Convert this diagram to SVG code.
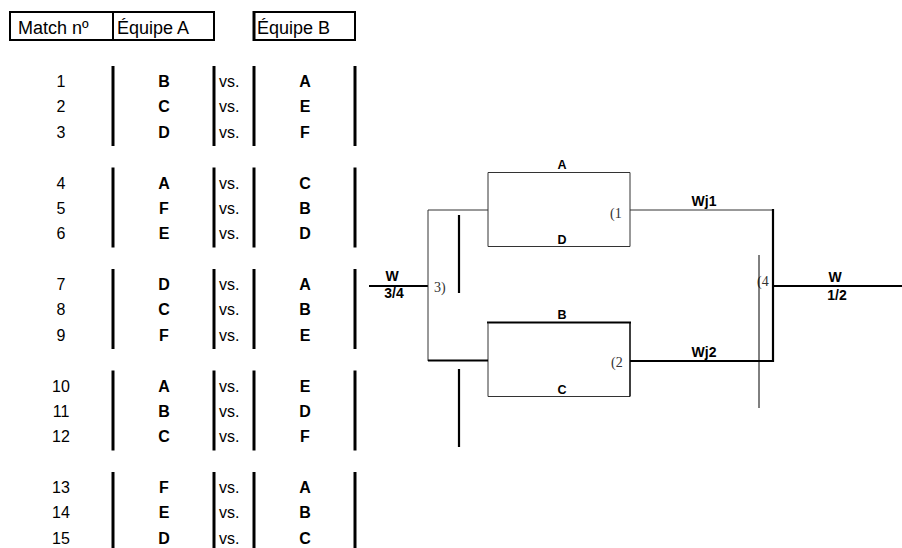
<svg xmlns="http://www.w3.org/2000/svg" width="902" height="548" viewBox="0 0 902 548">
<style>
text{font-family:"Liberation Sans",Arial,sans-serif;fill:#000}
.hd{font-size:18px}
.n{font-size:16px;text-anchor:middle}
.t{font-size:16px;font-weight:bold;text-anchor:middle}
.vs{font-size:16px}
.bl{font-size:12.5px;font-weight:bold;text-anchor:middle}
.wl{font-size:14px;font-weight:bold;text-anchor:middle}
.sr{font-family:"Liberation Serif","Times New Roman",serif;font-size:14px;fill:#333}
.bar{stroke:#000;stroke-width:3;fill:none}
.hbox{stroke:#000;stroke-width:2;fill:none}
.thin{stroke:#333;stroke-width:1;fill:none}
.thick{stroke:#000;stroke-width:2.2;fill:none}
.mid{stroke:#000;stroke-width:1.5;fill:none}
</style>
<rect width="902" height="548" fill="#fff"/>
<g id="header">
<rect class="hbox" x="10" y="12" width="204" height="28"/>
<line class="hbox" x1="113" y1="12" x2="113" y2="40"/>
<rect class="hbox" x="254" y="12" width="101" height="28"/>
<line class="bar" x1="254" y1="11" x2="254" y2="41"/>
<text class="hd" x="18" y="34">Match nº</text>
<text class="hd" x="117" y="34">Équipe A</text>
<text class="hd" x="257" y="34">Équipe B</text>
</g>
<g id="table-lines">
<g id="bars-g1"><line class="bar" x1="113" y1="66" x2="113" y2="146"/><line class="bar" x1="214" y1="66" x2="214" y2="146"/><line class="bar" x1="254" y1="66" x2="254" y2="146"/><line class="bar" x1="355" y1="66" x2="355" y2="146"/></g>
<g id="bars-g2"><line class="bar" x1="113" y1="167.5" x2="113" y2="247.5"/><line class="bar" x1="214" y1="167.5" x2="214" y2="247.5"/><line class="bar" x1="254" y1="167.5" x2="254" y2="247.5"/><line class="bar" x1="355" y1="167.5" x2="355" y2="247.5"/></g>
<g id="bars-g3"><line class="bar" x1="113" y1="269" x2="113" y2="349"/><line class="bar" x1="214" y1="269" x2="214" y2="349"/><line class="bar" x1="254" y1="269" x2="254" y2="349"/><line class="bar" x1="355" y1="269" x2="355" y2="349"/></g>
<g id="bars-g4"><line class="bar" x1="113" y1="370.5" x2="113" y2="450.5"/><line class="bar" x1="214" y1="370.5" x2="214" y2="450.5"/><line class="bar" x1="254" y1="370.5" x2="254" y2="450.5"/><line class="bar" x1="355" y1="370.5" x2="355" y2="450.5"/></g>
<g id="bars-g5"><line class="bar" x1="113" y1="472" x2="113" y2="548"/><line class="bar" x1="214" y1="472" x2="214" y2="548"/><line class="bar" x1="254" y1="472" x2="254" y2="548"/><line class="bar" x1="355" y1="472" x2="355" y2="548"/></g>
</g>
<g id="match1"><text class="n" x="61" y="87">1</text><text class="t" x="164" y="87">B</text><text class="vs" x="219" y="87">vs.</text><text class="t" x="305" y="87">A</text></g>
<g id="match2"><text class="n" x="61" y="112.4">2</text><text class="t" x="164" y="112.4">C</text><text class="vs" x="219" y="112.4">vs.</text><text class="t" x="305" y="112.4">E</text></g>
<g id="match3"><text class="n" x="61" y="137.8">3</text><text class="t" x="164" y="137.8">D</text><text class="vs" x="219" y="137.8">vs.</text><text class="t" x="305" y="137.8">F</text></g>
<g id="match4"><text class="n" x="61" y="188.5">4</text><text class="t" x="164" y="188.5">A</text><text class="vs" x="219" y="188.5">vs.</text><text class="t" x="305" y="188.5">C</text></g>
<g id="match5"><text class="n" x="61" y="213.9">5</text><text class="t" x="164" y="213.9">F</text><text class="vs" x="219" y="213.9">vs.</text><text class="t" x="305" y="213.9">B</text></g>
<g id="match6"><text class="n" x="61" y="239.3">6</text><text class="t" x="164" y="239.3">E</text><text class="vs" x="219" y="239.3">vs.</text><text class="t" x="305" y="239.3">D</text></g>
<g id="match7"><text class="n" x="61" y="290">7</text><text class="t" x="164" y="290">D</text><text class="vs" x="219" y="290">vs.</text><text class="t" x="305" y="290">A</text></g>
<g id="match8"><text class="n" x="61" y="315.4">8</text><text class="t" x="164" y="315.4">C</text><text class="vs" x="219" y="315.4">vs.</text><text class="t" x="305" y="315.4">B</text></g>
<g id="match9"><text class="n" x="61" y="340.8">9</text><text class="t" x="164" y="340.8">F</text><text class="vs" x="219" y="340.8">vs.</text><text class="t" x="305" y="340.8">E</text></g>
<g id="match10"><text class="n" x="61" y="391.5">10</text><text class="t" x="164" y="391.5">A</text><text class="vs" x="219" y="391.5">vs.</text><text class="t" x="305" y="391.5">E</text></g>
<g id="match11"><text class="n" x="61" y="416.9">11</text><text class="t" x="164" y="416.9">B</text><text class="vs" x="219" y="416.9">vs.</text><text class="t" x="305" y="416.9">D</text></g>
<g id="match12"><text class="n" x="61" y="442.3">12</text><text class="t" x="164" y="442.3">C</text><text class="vs" x="219" y="442.3">vs.</text><text class="t" x="305" y="442.3">F</text></g>
<g id="match13"><text class="n" x="61" y="493">13</text><text class="t" x="164" y="493">F</text><text class="vs" x="219" y="493">vs.</text><text class="t" x="305" y="493">A</text></g>
<g id="match14"><text class="n" x="61" y="518.4">14</text><text class="t" x="164" y="518.4">E</text><text class="vs" x="219" y="518.4">vs.</text><text class="t" x="305" y="518.4">B</text></g>
<g id="match15"><text class="n" x="61" y="543.8">15</text><text class="t" x="164" y="543.8">D</text><text class="vs" x="219" y="543.8">vs.</text><text class="t" x="305" y="543.8">C</text></g>
<g id="semi1">
<line class="thin" x1="488" y1="172.5" x2="630" y2="172.5"/>
<line class="thin" x1="488" y1="246.5" x2="630" y2="246.5"/>
<line class="thin" x1="488" y1="172.5" x2="488" y2="246.5"/>
<line class="thin" x1="630" y1="172.5" x2="630" y2="246.5"/>
<text class="bl" x="562" y="169">A</text>
<text class="bl" x="562" y="244">D</text>
<text class="sr" x="610" y="218">(1</text>
</g>
<g id="semi2">
<line class="thick" x1="487" y1="322.5" x2="631" y2="322.5"/>
<line class="thin" x1="488" y1="396.5" x2="630" y2="396.5"/>
<line class="thin" x1="488" y1="322.5" x2="488" y2="396.5"/>
<line class="mid" x1="630" y1="322.5" x2="630" y2="396.5"/>
<text class="bl" x="562" y="319">B</text>
<text class="bl" x="562" y="394">C</text>
<text class="sr" x="611" y="367">(2</text>
</g>
<g id="third-place">
<text class="wl" x="392" y="281">W</text>
<text class="wl" x="394" y="298">3/4</text>
<text class="sr" x="434" y="292">3)</text>
</g>
<g id="final">
<text class="wl" x="704" y="206">Wj1</text>
<text class="wl" x="704" y="356.5">Wj2</text>
<text class="sr" x="757" y="286">(4</text>
<text class="wl" x="835" y="282">W</text>
<text class="wl" x="837" y="300">1/2</text>
</g>
<g id="connectors">
<line class="thick" x1="369" y1="286" x2="428" y2="286"/>
<line class="thin" x1="428" y1="210" x2="428" y2="361"/>
<line class="thin" x1="428" y1="210" x2="488" y2="210"/>
<line class="thick" x1="428" y1="360.5" x2="488" y2="360.5"/>
<line class="thick" x1="459" y1="215" x2="459" y2="293"/>
<line class="thick" x1="459" y1="369" x2="459" y2="447"/>
<line class="thin" x1="630" y1="210" x2="773" y2="210"/>
<line class="thick" x1="630" y1="361" x2="774" y2="361"/>
<line class="thick" x1="773" y1="209" x2="773" y2="362"/>
<line class="thick" x1="773" y1="286" x2="902" y2="286"/>
<line stroke="#000" stroke-width="1" x1="759" y1="255" x2="759" y2="408"/>
</g>
</svg>
